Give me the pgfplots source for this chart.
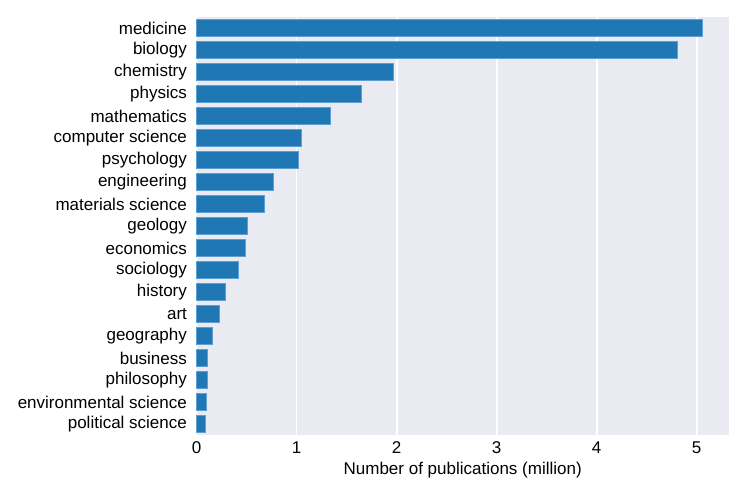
\documentclass[border=0pt]{standalone}
\usepackage{pgfplots}
\pgfplotsset{compat=1.18}
\usepackage{fontspec}
\setmainfont{Liberation Sans}
\definecolor{bgc}{HTML}{EAEAF2}
\definecolor{barc}{HTML}{1F77B4}
\definecolor{edgec}{HTML}{5E9ED2}
\pgfplotstableread{
idx val
0 5.06
1 4.81
2 1.97
3 1.65
4 1.335
5 1.05
6 1.015
7 0.77
8 0.68
9 0.507
10 0.487
11 0.413
12 0.283
13 0.223
14 0.157
15 0.107
16 0.103
17 0.093
18 0.09
}\datatable
\begin{document}
\begin{tikzpicture}
\path[use as bounding box] (-196.7pt,-63pt) rectangle (550.3pt,435pt);
\begin{axis}[
  at={(0,0)}, anchor=south west,
  scale only axis,
  width=532pt, height=418pt,
  xbar, bar width=0.8,
  xmin=0, xmax=5.32,
  ymin=-0.5, ymax=18.5,
  y dir=reverse,
  ytick={0,...,18},
  yticklabels={medicine,biology,chemistry,physics,mathematics,computer science,psychology,engineering,materials science,geology,economics,sociology,history,art,geography,business,philosophy,environmental science,political science},
  xtick={0,1,2,3,4,5},
  axis background/.style={fill=bgc},
  axis line style={draw=none},
  tick style={draw=none},
  xmajorgrids,
  grid style={white, line width=1.6pt},
  ticklabel style={font=\fontsize{17}{19}\selectfont},
  /pgf/number format/assume math mode=true,
  yticklabel style={xshift=-2pt},
  xticklabel style={yshift=-3pt},
  xlabel={Number of publications (million)},
  xlabel style={font=\fontsize{17}{19}\selectfont, yshift=-2pt},
  clip=false,
]
\addplot[fill=barc, draw=edgec, line width=0.8pt] table[x=val, y=idx] {\datatable};
\end{axis}
\end{tikzpicture}
\end{document}
